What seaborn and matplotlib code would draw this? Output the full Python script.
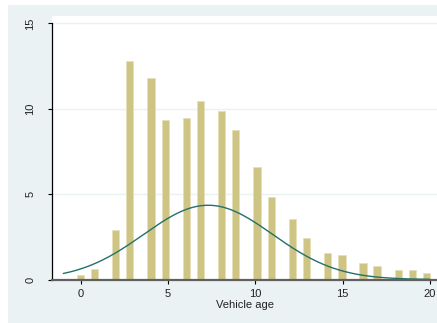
import numpy as np
import pandas as pd
import matplotlib
matplotlib.use("Agg")
import matplotlib.pyplot as plt
from matplotlib.patches import Rectangle
import seaborn as sns

# ---- data ----
bar_pos = [-0.02, 0.79, 2.00, 2.80, 4.03, 4.86, 6.07, 6.87, 8.08, 8.88, 10.09,
           10.91, 12.14, 12.95, 14.15, 14.96, 16.17, 16.97, 18.20, 19.00, 19.80]
bar_pct = [0.25, 0.62, 2.89, 12.79, 11.79, 9.35, 9.47, 10.43, 9.90, 8.73, 6.58,
           4.82, 3.57, 2.46, 1.58, 1.41, 0.97, 0.82, 0.54, 0.54, 0.37]
norm_mu = 7.3
norm_sd = 3.7
norm_peak = 4.35
curve_range = [-1.0, 20.0]
x_ticks = [0, 5, 10, 15, 20]
y_ticks = [0, 5, 10, 15]
x_label = "Vehicle age"

# ---- styling ----
sns.set_style("white")
plt.rcParams["font.family"] = ["Liberation Sans", "DejaVu Sans"]

W, H = 437, 323
fig = plt.figure(figsize=(W / 100, H / 100), dpi=100)
fig.patch.set_facecolor("white")
fig.add_artist(Rectangle((8 / W, 0), 1, 1 - 5 / H, transform=fig.transFigure,
                         facecolor="#EAF2F3", edgecolor="none", zorder=0))

ax_left, ax_right, ax_top, ax_bot = 52, 437, 16, 279.5
ax = fig.add_axes([ax_left / W, (H - ax_bot) / H, (ax_right - ax_left) / W,
                   (ax_bot - ax_top) / H])
ax.set_facecolor("white")

df = pd.DataFrame({"pos": bar_pos, "pct": bar_pct})
min_gap = np.min(np.diff(np.sort(np.array(bar_pos))))
sns.barplot(data=df, x="pos", y="pct", native_scale=True, errorbar=None,
            width=0.42 / min_gap, color="#CEC585", saturation=1,
            edgecolor="#E6DFB8", linewidth=0.6, ax=ax, zorder=2)

xs = np.linspace(curve_range[0], curve_range[1], 400)
ys = norm_peak * np.exp(-0.5 * ((xs - norm_mu) / norm_sd) ** 2)
sns.lineplot(x=xs, y=ys, color="#24706A", linewidth=1.0, ax=ax, zorder=3)

# axis scaling: 0 at px 80.7, 17.46 px/unit ; y 0 at 279.3, 17.07 px/unit
x0px, xs_px = 80.7, 17.46
ax.set_xlim((ax_left - x0px) / xs_px, (ax_right - x0px) / xs_px)
ax.set_ylim(0, (ax_bot - ax_top) / 17.07)

ax.set_xticks(x_ticks)
ax.set_xticklabels([str(t) for t in x_ticks])
ax.set_yticks(y_ticks)
ax.set_yticklabels([str(t) for t in y_ticks], rotation=90, va="center")

for t in y_ticks[1:]:
    ax.axhline(t, color="#EAF2F3", linewidth=1.0, zorder=1)

for s in ["top", "right"]:
    ax.spines[s].set_visible(False)
ax.spines["left"].set_color("#000000")
ax.spines["left"].set_linewidth(0.9)
ax.spines["left"].set_bounds(0, 15)
ax.spines["bottom"].set_color("#606060")
ax.spines["bottom"].set_linewidth(1.6)
ax.spines["bottom"].set_zorder(4)

ax.tick_params(axis="y", direction="out", length=3, width=0.8, color="#000000",
               pad=9, labelsize=8, labelcolor="#222222", left=True)
ax.tick_params(axis="x", direction="out", length=3, width=0.8, color="#000000",
               pad=3.5, labelsize=8, labelcolor="#222222", bottom=True)
ax.set_xlabel(x_label, fontsize=8, color="#222222", labelpad=1)
ax.set_ylabel("")
ax.grid(False)

fig.savefig("out.png", dpi=100)
